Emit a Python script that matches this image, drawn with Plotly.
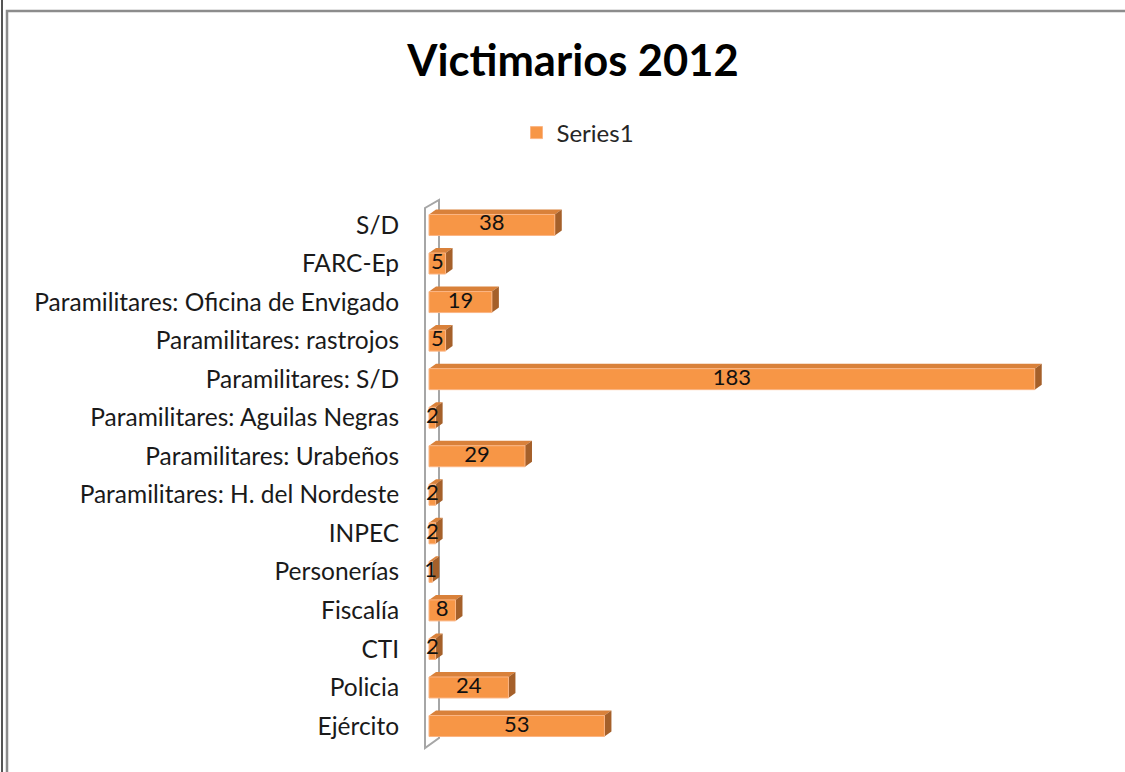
import plotly.graph_objects as go

categories = ["Ejército", "Policia", "CTI", "Fiscalía", "Personerías", "INPEC",
              "Paramilitares: H. del Nordeste", "Paramilitares: Urabeños",
              "Paramilitares: Aguilas Negras", "Paramilitares: S/D",
              "Paramilitares: rastrojos", "Paramilitares: Oficina de Envigado",
              "FARC-Ep", "S/D"]
values = [53, 24, 2, 8, 1, 2, 2, 29, 2, 183, 5, 19, 5, 38]
series_name = "Series1"
title_text = "Victimarios 2012"

FRONT = "#F79646"
TOP = "#D9813A"
SIDE = "#A5602A"
FONT = "Lato"

W, H = 1125, 772
ML, MR, MT, MB = 415, 50, 198, 19
PXU = 3.31                      # pixels per value unit
plot_w = W - ML - MR
plot_h = H - MT - MB
X0 = -(429 - ML) / PXU
XR = X0 + plot_w / PXU
n = len(categories)
YPAD = 0.7
px_y = plot_h / (n - 1 + 2 * YPAD)
BAR_W = 0.545
hpx = BAR_W * px_y
DX, DY = 7, 5

ypos = list(range(n))

fig = go.Figure()
fig.add_trace(go.Bar(
    x=values, y=ypos, orientation="h", width=BAR_W,
    marker=dict(color=FRONT, line=dict(color="#FBB584", width=1)),
    name=series_name, showlegend=True, hoverinfo="x+y",
))
fig.add_trace(go.Scatter(
    x=[v / 2 for v in values], y=ypos, mode="text",
    text=[str(v) for v in values], textposition="middle center",
    textfont=dict(family=FONT, size=22, color="#111111"),
    showlegend=False, hoverinfo="skip",
))

shapes = []
# 3D wall at the category axis (pixel offsets around the axis origin)
ctr = (n - 1) / 2
half = (n - 1) / 2 * px_y
wall = (f"M -4 {half + 17} L -4 {-half - 22} L 10 {-half - 12} "
        f"L 10 {half + 25} Z")
shapes.append(dict(
    type="path", xref="x", yref="y", xsizemode="pixel", ysizemode="pixel",
    xanchor=0, yanchor=ctr, path=wall,
    line=dict(color="#A6A6A6", width=2), layer="below"))

for i, v in zip(ypos, values):
    L = v * PXU
    h2 = hpx / 2
    shapes.append(dict(
        type="path", xref="x", yref="y", xsizemode="pixel", ysizemode="pixel",
        xanchor=0, yanchor=i,
        path=f"M 0 {h2} L {L} {h2} L {L+DX} {h2+DY} L {DX} {h2+DY} Z",
        fillcolor=TOP, line=dict(width=0), layer="below"))
    shapes.append(dict(
        type="path", xref="x", yref="y", xsizemode="pixel", ysizemode="pixel",
        xanchor=0, yanchor=i,
        path=f"M {L} {h2} L {L+DX} {h2+DY} L {L+DX} {-h2+DY} L {L} {-h2} Z",
        fillcolor=SIDE, line=dict(width=0), layer="below"))


def px2paper_x(p):
    return (p - ML) / plot_w


def px2paper_y(p):
    return (H - MB - p) / plot_h


# chart frame
shapes.append(dict(type="rect", xref="paper", yref="paper",
                   x0=px2paper_x(7), x1=px2paper_x(1160),
                   y0=px2paper_y(800), y1=px2paper_y(11),
                   line=dict(color="#8C8C8C", width=2.5), layer="below"))
shapes.append(dict(type="line", xref="paper", yref="paper",
                   x0=px2paper_x(2), x1=px2paper_x(2),
                   y0=px2paper_y(800), y1=px2paper_y(-5),
                   line=dict(color="#555555", width=2), layer="below"))

fig.update_layout(
    width=W, height=H,
    margin=dict(l=ML, r=MR, t=MT, b=MB),
    paper_bgcolor="white", plot_bgcolor="white",
    title=dict(text=f"<b>{title_text}</b>", x=573 / W, xanchor="center",
               y=1 - 61 / H, yanchor="middle",
               font=dict(family=FONT, size=43.5, color="#000000")),
    legend=dict(orientation="h", x=px2paper_x(578), xanchor="center",
                y=px2paper_y(133), yanchor="middle",
                font=dict(family=FONT, size=24, color="#262626"),
                bgcolor="rgba(0,0,0,0)"),
    xaxis=dict(range=[X0, XR], visible=False, fixedrange=True),
    yaxis=dict(range=[-YPAD, n - 1 + YPAD], tickvals=ypos, ticktext=categories,
               showline=False, showgrid=False, zeroline=False,
               ticks="outside", ticklen=10, tickcolor="rgba(0,0,0,0)",
               tickfont=dict(family=FONT, size=24.5, color="#1a1a1a"),
               fixedrange=True),
    shapes=shapes,
    bargap=0.45,
)

fig.write_html("out.html",
               config={"displayModeBar": False},
               post_script="document.body.style.margin='0';"
                           "document.body.style.overflow='hidden';")
